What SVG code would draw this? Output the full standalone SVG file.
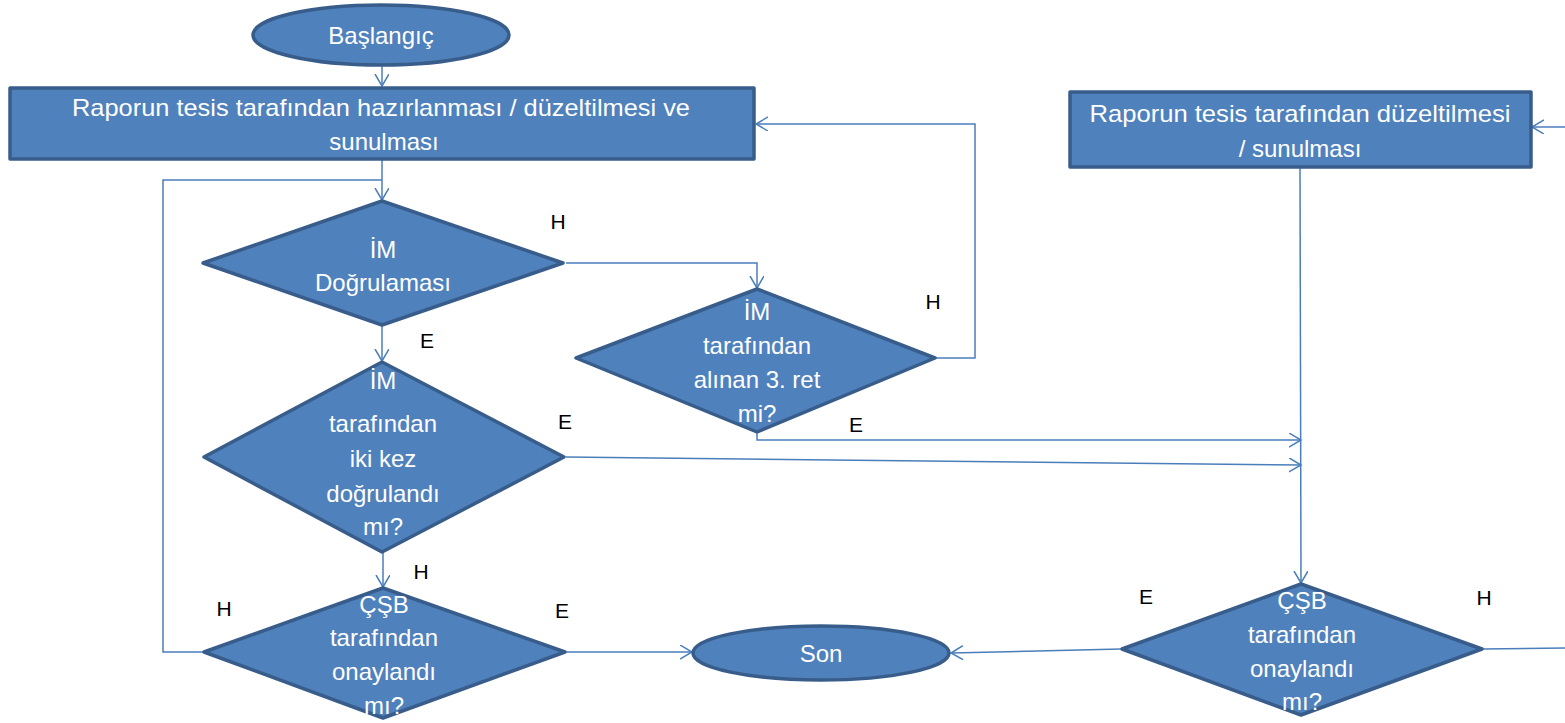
<svg xmlns="http://www.w3.org/2000/svg" width="1565" height="723" viewBox="0 0 1565 723">
<defs>
<marker id="arr" markerUnits="userSpaceOnUse" markerWidth="14" markerHeight="16" refX="12" refY="7" orient="auto">
<path d="M0,0 L12,7 L0,14" fill="none" stroke="#4A7EBB" stroke-width="1.5"/>
</marker>
<style>
.shape{fill:#4F81BD;stroke:#385D8A;stroke-width:3.5;stroke-linejoin:round}
.t{font-family:"Liberation Sans","Noto Sans",sans-serif;font-size:24px;fill:#ffffff;text-anchor:middle}
.lbl{font-family:"Liberation Sans","Noto Sans",sans-serif;font-size:21px;fill:#000000;text-anchor:middle}
.c{fill:none;stroke:#4A7EBB;stroke-width:1.5}
</style>
</defs>
<rect width="1565" height="723" fill="#ffffff"/>

<g id="connectors">
<path class="c" d="M382,66 L382,86" marker-end="url(#arr)"/>
<path class="c" d="M382,160 L382,200" marker-end="url(#arr)"/>
<path class="c" d="M205,652 L163,652 L163,180 L382,180"/>
<path class="c" d="M566,263 L757,263 L757,288" marker-end="url(#arr)"/>
<path class="c" d="M936,358 L975,358 L975,124 L756,124" marker-end="url(#arr)"/>
<path class="c" d="M757,432 L757,440 L1301,440" marker-end="url(#arr)"/>
<path class="c" d="M382,326 L382,361" marker-end="url(#arr)"/>
<path class="c" d="M566,457 L1301,465" marker-end="url(#arr)"/>
<path class="c" d="M383,552 L383,587" marker-end="url(#arr)"/>
<path class="c" d="M566,652 L692,652" marker-end="url(#arr)"/>
<path class="c" d="M1300,168 L1301,583" marker-end="url(#arr)"/>
<path class="c" d="M1121,649 L951,653" marker-end="url(#arr)"/>
<path class="c" d="M1483,649 L1565,648"/>
<path class="c" d="M1565,127 L1532,127" marker-end="url(#arr)"/>
</g>

<g id="start">
<ellipse class="shape" cx="381" cy="35" rx="128" ry="30"/>
<text class="t" x="381" y="44">Başlangıç</text>
</g>

<g id="rect1">
<rect class="shape" x="10" y="88" width="744" height="71"/>
<text class="t" x="381" y="116" textLength="618" lengthAdjust="spacingAndGlyphs">Raporun tesis tarafından hazırlanması / düzeltilmesi ve</text>
<text class="t" x="384" y="150">sunulması</text>
</g>

<g id="rect2">
<rect class="shape" x="1070" y="92" width="461" height="75"/>
<text class="t" x="1300" y="122" textLength="421" lengthAdjust="spacingAndGlyphs">Raporun tesis tarafından düzeltilmesi</text>
<text class="t" x="1300" y="157">/ sunulması</text>
</g>

<g id="d1">
<polygon class="shape" points="382,201 563,263 382,325 203,263"/>
<text class="t" x="383" y="258">İM</text>
<text class="t" x="383" y="291">Doğrulaması</text>
</g>

<g id="d2">
<polygon class="shape" points="757,289 935,358 757,432 576,358"/>
<text class="t" x="757" y="320">İM</text>
<text class="t" x="757" y="354">tarafından</text>
<text class="t" x="757" y="388">alınan 3. ret</text>
<text class="t" x="757" y="422">mi?</text>
</g>

<g id="d3">
<polygon class="shape" points="382,362 564,457 382,552 204,457"/>
<text class="t" x="383" y="389">İM</text>
<text class="t" x="383" y="432">tarafından</text>
<text class="t" x="383" y="467">iki kez</text>
<text class="t" x="383" y="502">doğrulandı</text>
<text class="t" x="383" y="535">mı?</text>
</g>

<g id="d4">
<polygon class="shape" points="383,588 565,652 383,718 204,652"/>
<text class="t" x="384" y="613">ÇŞB</text>
<text class="t" x="384" y="646">tarafından</text>
<text class="t" x="384" y="680">onaylandı</text>
<text class="t" x="384" y="714">mı?</text>
</g>

<g id="d5">
<polygon class="shape" points="1301,584 1482,649 1301,715 1122,649"/>
<text class="t" x="1302" y="609">ÇŞB</text>
<text class="t" x="1302" y="643">tarafından</text>
<text class="t" x="1302" y="677">onaylandı</text>
<text class="t" x="1302" y="710">mı?</text>
</g>

<g id="end">
<ellipse class="shape" cx="821" cy="653" rx="128" ry="27"/>
<text class="t" x="821" y="662">Son</text>
</g>

<g id="labels">
<text class="lbl" x="558" y="229">H</text>
<text class="lbl" x="933" y="309">H</text>
<text class="lbl" x="427" y="348">E</text>
<text class="lbl" x="565" y="429">E</text>
<text class="lbl" x="856" y="432">E</text>
<text class="lbl" x="421" y="579">H</text>
<text class="lbl" x="224" y="616">H</text>
<text class="lbl" x="562" y="618">E</text>
<text class="lbl" x="1146" y="604">E</text>
<text class="lbl" x="1484" y="605">H</text>
</g>
</svg>
